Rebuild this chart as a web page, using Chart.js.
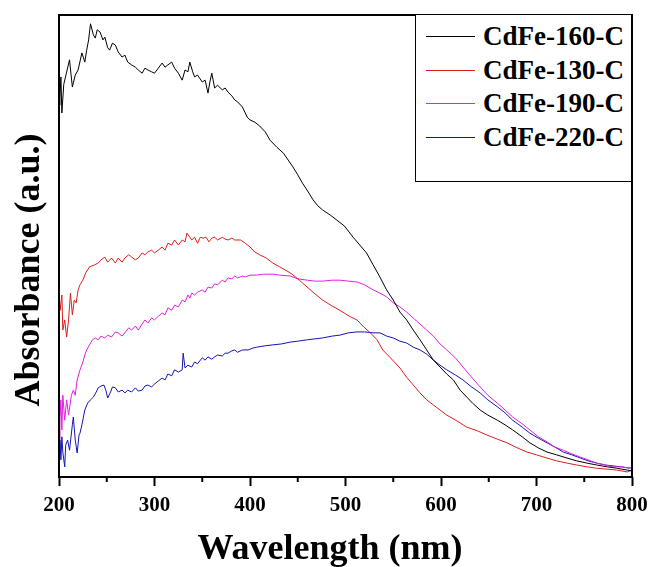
<!DOCTYPE html>
<html>
<head>
<meta charset="utf-8">
<script src="https://cdn.jsdelivr.net/npm/chart.js@4.4.1/dist/chart.umd.min.js"></script>
<style>
  body { margin: 0; background: #fff; }
  #wrap { position: relative; width: 651px; height: 567px; }
  #legend {
    position: absolute; left: 415px; top: 14px; width: 217px; height: 168px;
    border: 1px solid #000; box-sizing: border-box; background: #fff;
  }
  .row { position: absolute; left: 0; height: 30px; display: flex; align-items: center; }
  .swatch { width: 49px; height: 1px; margin-left: 10px; }
  .lbl { margin-left: 8px; font: bold 27px "Liberation Serif", "Times New Roman", serif; color: #000; }
</style>
</head>
<body>
<div id="wrap">
  <canvas id="chart" width="651" height="567"></canvas>
  <div id="legend"></div>
</div>
<script>
// Wavelength (nm) and absorbance (a.u.), per sample
const wl160 = [200,201,202,203,205,211,214,217,220,224,
  227,229,231,233,236,238,240,243,246,248,
  251,253,256,259,262,266,269,272,276,280,
  283,287,290,293,297,300,304,308,311,314,
  318,321,325,329,332,335,337,340,342,345,
  350,353,356,358,360,363,366,371,374,377,
  381,384,387,392,395,397,400,405,410,416,
  421,428,435,440,445,450,455,461,466,471,
  476,484,491,499,508,515,522,529,536,543,
  550,557,564,571,578,585,592,599,606,613,
  620,627,633,641,649,659,667,675,685,693,
  702,711,721,732,742,753,763,774,784,795,800];
const abs160 = [0.805,0.820,0.866,0.788,0.850,0.903,0.844,0.870,0.881,0.918,
  0.898,0.924,0.946,0.981,0.957,0.950,0.968,0.963,0.946,0.952,
  0.929,0.924,0.939,0.935,0.920,0.909,0.913,0.898,0.892,0.887,
  0.881,0.874,0.885,0.881,0.877,0.874,0.885,0.896,0.887,0.892,
  0.898,0.885,0.874,0.859,0.881,0.877,0.898,0.877,0.866,0.870,
  0.855,0.859,0.831,0.855,0.874,0.842,0.848,0.838,0.842,0.833,
  0.825,0.816,0.812,0.801,0.788,0.779,0.773,0.768,0.760,0.747,
  0.729,0.714,0.701,0.686,0.671,0.654,0.636,0.617,0.600,0.587,
  0.578,0.567,0.556,0.543,0.519,0.502,0.485,0.459,0.433,0.405,
  0.383,0.357,0.340,0.318,0.297,0.275,0.253,0.238,0.223,0.210,
  0.188,0.173,0.160,0.145,0.134,0.123,0.113,0.102,0.087,0.074,
  0.063,0.054,0.048,0.041,0.035,0.030,0.026,0.022,0.019,0.015,0.013];

const wl130 = [200,201,203,204,206,208,210,212,214,216,
  218,220,222,225,228,232,237,241,244,248,
  251,255,259,262,266,269,273,276,280,283,
  287,290,293,297,300,304,308,311,314,318,
  321,325,329,332,334,337,339,342,345,348,
  351,354,357,360,363,366,371,374,377,381,
  384,390,395,400,405,410,417,424,431,442,
  449,455,466,476,486,494,504,512,519,526,
  533,539,547,552,557,564,571,578,585,592,
  599,606,617,627,638,648,659,669,680,690,
  700,711,721,732,742,753,763,774,784,795,800];
const abs130 = [0.372,0.361,0.394,0.318,0.340,0.303,0.340,0.398,0.351,0.383,
  0.377,0.405,0.416,0.426,0.442,0.455,0.459,0.463,0.470,0.476,
  0.465,0.474,0.463,0.474,0.465,0.474,0.481,0.476,0.470,0.474,
  0.485,0.481,0.487,0.491,0.485,0.491,0.498,0.491,0.506,0.502,
  0.513,0.502,0.513,0.509,0.528,0.519,0.513,0.519,0.506,0.519,
  0.517,0.519,0.509,0.517,0.519,0.513,0.519,0.515,0.513,0.517,
  0.513,0.513,0.506,0.498,0.487,0.481,0.474,0.463,0.455,0.442,
  0.431,0.420,0.400,0.383,0.370,0.361,0.348,0.340,0.325,0.312,
  0.297,0.275,0.258,0.247,0.236,0.216,0.199,0.182,0.167,0.156,
  0.145,0.134,0.121,0.108,0.100,0.091,0.082,0.074,0.063,0.054,
  0.048,0.041,0.035,0.030,0.026,0.022,0.019,0.017,0.015,0.011,0.015];

const wl190 = [200,201,202,203,204,206,208,210,213,215,
  217,219,222,225,227,229,232,235,238,241,
  244,248,251,255,259,262,266,269,273,276,
  280,283,287,290,293,297,300,304,308,311,
  314,318,321,325,329,332,335,337,339,342,
  345,350,353,356,360,363,366,371,374,377,
  381,384,387,392,395,400,407,414,424,431,
  442,450,460,468,476,486,494,503,512,520,
  529,536,543,550,557,564,571,578,585,592,
  599,606,615,623,632,641,649,659,667,675,
  685,693,702,711,719,728,737,746,754,763,
  772,780,789,798,800];
const abs190 = [0.080,0.123,0.167,0.102,0.177,0.123,0.167,0.134,0.177,0.188,
  0.177,0.210,0.232,0.249,0.264,0.275,0.286,0.297,0.301,0.297,
  0.305,0.301,0.307,0.303,0.314,0.312,0.305,0.312,0.323,0.318,
  0.327,0.318,0.331,0.340,0.333,0.344,0.340,0.348,0.355,0.351,
  0.366,0.361,0.372,0.368,0.383,0.379,0.394,0.387,0.398,0.394,
  0.400,0.405,0.400,0.411,0.409,0.418,0.416,0.426,0.422,0.431,
  0.429,0.435,0.431,0.435,0.433,0.437,0.437,0.439,0.439,0.437,
  0.435,0.429,0.426,0.424,0.424,0.426,0.426,0.424,0.422,0.416,
  0.405,0.398,0.390,0.377,0.368,0.357,0.344,0.331,0.318,0.305,
  0.288,0.275,0.258,0.238,0.216,0.195,0.177,0.160,0.145,0.130,
  0.115,0.102,0.087,0.076,0.065,0.058,0.050,0.043,0.037,0.030,
  0.026,0.022,0.022,0.019,0.024];

const wl220 = [200,201,202,203,204,206,207,209,211,214,
  215,217,219,221,222,224,227,230,233,236,
  239,241,244,247,249,251,254,256,259,262,
  266,269,272,276,280,283,287,290,293,297,
  300,304,308,311,314,318,321,325,329,330,
  332,335,339,342,345,350,353,356,360,363,
  366,371,374,377,381,384,387,392,398,403,
  407,416,424,433,442,450,460,468,476,486,
  494,503,512,520,529,536,543,550,557,564,
  571,578,585,592,599,606,615,623,632,641,
  649,659,667,675,685,693,702,711,719,728,
  737,746,754,763,772,780,789,798,800];
const abs220 = [0.058,0.080,0.037,0.087,0.054,0.022,0.069,0.080,0.058,0.113,
  0.130,0.080,0.052,0.091,0.095,0.113,0.145,0.160,0.167,0.173,
  0.184,0.193,0.197,0.199,0.188,0.171,0.184,0.195,0.193,0.184,
  0.188,0.182,0.188,0.184,0.193,0.186,0.188,0.197,0.199,0.195,
  0.201,0.208,0.214,0.210,0.223,0.219,0.232,0.227,0.232,0.268,
  0.236,0.242,0.238,0.249,0.245,0.258,0.253,0.260,0.255,0.260,
  0.264,0.262,0.268,0.268,0.273,0.275,0.270,0.275,0.275,0.279,
  0.281,0.284,0.286,0.288,0.292,0.294,0.297,0.299,0.301,0.305,
  0.307,0.312,0.314,0.314,0.312,0.312,0.305,0.301,0.294,0.290,
  0.281,0.275,0.266,0.253,0.242,0.232,0.221,0.210,0.195,0.182,
  0.167,0.152,0.139,0.123,0.108,0.095,0.084,0.074,0.065,0.054,
  0.048,0.041,0.035,0.030,0.026,0.024,0.022,0.019,0.022];

const labels = ['CdFe-160-C', 'CdFe-130-C', 'CdFe-190-C', 'CdFe-220-C'];
const colors = ['#000000', '#dc1e1e', '#e020e0', '#1414b4'];
const xs = [wl160, wl130, wl190, wl220];
const ys = [abs160, abs130, abs190, abs220];

const serif = '"Liberation Serif", "Times New Roman", serif';

// axis frame, minor ticks and the two axis titles
const framePlugin = {
  id: 'frame',
  afterDraw(chart) {
    const { ctx, chartArea: a, scales } = chart;
    ctx.save();
    ctx.strokeStyle = '#000';
    ctx.lineWidth = 2;
    ctx.strokeRect(a.left, a.top, a.right - a.left, a.bottom - a.top);
    for (let v = 250; v < 800; v += 100) {
      const px = scales.x.getPixelForValue(v);
      ctx.beginPath();
      ctx.moveTo(px, a.bottom);
      ctx.lineTo(px, a.bottom + 5);
      ctx.stroke();
    }
    ctx.fillStyle = '#000';
    ctx.font = 'bold 36px ' + serif;
    ctx.textAlign = 'center';
    ctx.textBaseline = 'alphabetic';
    ctx.fillText('Wavelength (nm)', 330, 559);
    ctx.translate(39, 270);
    ctx.rotate(-Math.PI / 2);
    ctx.fillText('Absorbance (a.u.)', 0, 0);
    ctx.restore();
  }
};

new Chart(document.getElementById('chart'), {
  type: 'line',
  data: {
    datasets: labels.map((name, i) => ({
      label: name,
      data: xs[i].map((x, j) => ({ x: x, y: ys[i][j] })),
      borderColor: colors[i],
      borderWidth: 1,
      pointRadius: 0,
      tension: 0,
      fill: false
    }))
  },
  options: {
    responsive: false,
    animation: false,
    layout: { padding: { top: 15, right: 19, left: 0, bottom: 0 } },
    plugins: { legend: { display: false }, tooltip: { enabled: false } },
    scales: {
      x: {
        type: 'linear', min: 200, max: 800,
        ticks: { stepSize: 100, color: '#000', padding: 7, maxRotation: 0,
                 font: { family: serif, size: 21, weight: 'bold' } },
        grid: { drawOnChartArea: false, tickLength: 9, tickWidth: 2, tickColor: '#000' },
        border: { display: false },
        afterFit: s => { s.height = 90; s.paddingLeft = 0; s.paddingRight = 0; }
      },
      y: {
        min: 0, max: 1,
        ticks: { display: false },
        grid: { display: false },
        border: { display: false },
        afterFit: s => { s.width = 59; }
      }
    }
  },
  plugins: [framePlugin]
});

// boxed legend in the top-right corner of the plot
const legend = document.getElementById('legend');
const rowTops = [6, 40, 73, 107];
labels.forEach((name, i) => {
  const row = document.createElement('div');
  row.className = 'row';
  row.style.top = rowTops[i] + 'px';
  row.innerHTML = '<div class="swatch" style="background:' + colors[i] + '"></div><span class="lbl">' + name + '</span>';
  legend.appendChild(row);
});
</script>
</body>
</html>
